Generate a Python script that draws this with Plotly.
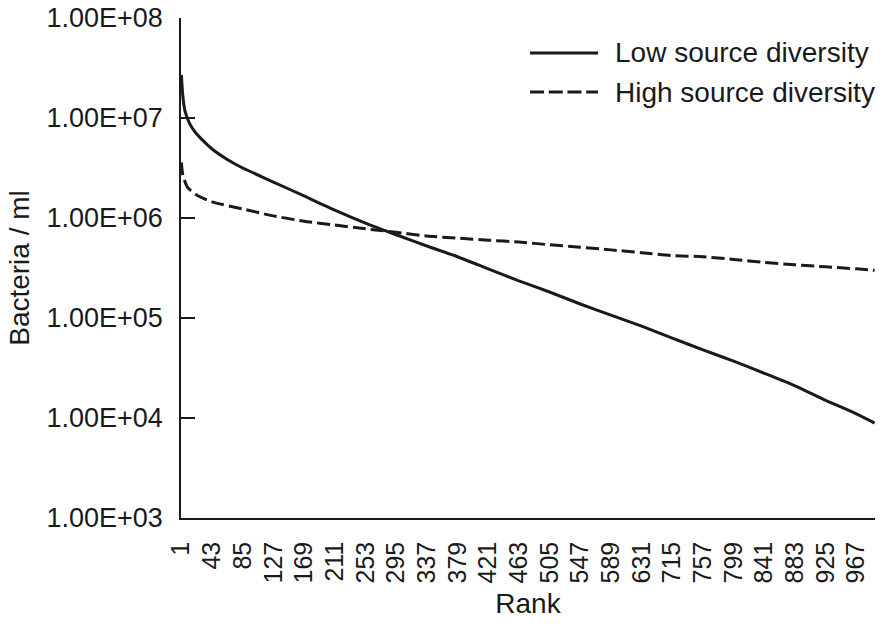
import plotly.graph_objects as go


# ranks 673..714 are absent from the category axis of the original chart
low_rank = [1, 3, 6, 12, 20, 30, 43, 65, 85, 127, 169, 211, 253, 295, 337, 379, 421,
            463, 505, 547, 589, 631, 715, 757, 799, 841, 883, 925, 967, 992]
low_div = [2.7e7, 1.66e7, 1.17e7, 8.9e6, 7.2e6, 6.0e6, 4.9e6, 3.8e6, 3.16e6, 2.29e6,
           1.66e6, 1.2e6, 8.9e5, 6.8e5, 5.25e5, 4.1e5, 3.1e5, 2.35e5, 1.82e5, 1.38e5,
           1.07e5, 8.3e4, 6.3e4, 4.8e4, 3.7e4, 2.8e4, 2.1e4, 1.5e4, 1.1e4, 8.9e3]

high_rank = [1, 2, 3, 6, 10, 22, 43, 85, 127, 169, 211, 253, 295, 337, 379, 421, 463,
             505, 547, 589, 631, 715, 757, 799, 841, 883, 925, 967, 992]
high_div = [3.6e6, 3.0e6, 2.7e6, 2.3e6, 2.0e6, 1.7e6, 1.45e6, 1.23e6, 1.05e6, 9.3e5,
            8.5e5, 7.8e5, 7.2e5, 6.6e5, 6.3e5, 6.0e5, 5.75e5, 5.4e5, 5.1e5, 4.8e5,
            4.5e5, 4.2e5, 4.1e5, 3.85e5, 3.6e5, 3.4e5, 3.25e5, 3.1e5, 3.0e5]

rank_labels = [1, 43, 85, 127, 169, 211, 253, 295, 337, 379, 421, 463, 505, 547, 589,
               631, 715, 757, 799, 841, 883, 925, 967]
y_ticks = [1e3, 1e4, 1e5, 1e6, 1e7, 1e8]
y_labels = ["1.00E+03", "1.00E+04", "1.00E+05", "1.00E+06", "1.00E+07", "1.00E+08"]

names = ["Low source diversity", "High source diversity"]

FONT = "Liberation Sans, Arial, sans-serif"
INK = "#1a1a1a"


def pos(r):
    # category position of a rank on the axis (gap after 672)
    return r - 1 if r <= 672 else r - 43


def main():
    fig = go.Figure()

    fig.add_trace(go.Scatter(
        x=[pos(r) for r in low_rank], y=low_div, mode='lines', name=names[0],
        line=dict(color=INK, width=3, shape='spline', smoothing=0.6)
    ))
    fig.add_trace(go.Scatter(
        x=[pos(r) for r in high_rank], y=high_div, mode='lines', name=names[1],
        line=dict(color=INK, width=3, dash='13px,5px', shape='spline', smoothing=0.6)
    ))

    fig.update_layout(
        width=893, height=628,
        margin=dict(l=181, r=18, t=18, b=110),
        plot_bgcolor='white', paper_bgcolor='white',
        showlegend=False,
        font=dict(family=FONT, size=27, color=INK),
        xaxis=dict(
            range=[-0.5, 949.5], showgrid=False, zeroline=False, automargin=False,
            showline=True, linecolor=INK, linewidth=1.5,
            tickvals=[pos(r) for r in rank_labels], ticktext=[str(r) for r in rank_labels],
            tickangle=-90, ticks='', ticklabelstandoff=12,
            tickfont=dict(size=25),
            title=dict(text='Rank', standoff=11, font=dict(size=28)),
        ),
        yaxis=dict(
            type='log', range=[3, 8], showgrid=False, zeroline=False, automargin=False,
            showline=True, linecolor=INK, linewidth=1.5,
            tickvals=y_ticks, ticktext=y_labels, ticklabeloverflow='allow',
            ticks='inside', ticklen=14, tickwidth=1.5, tickcolor=INK,
            ticklabelstandoff=11, tickfont=dict(size=27),
            title=dict(text='Bacteria / ml', standoff=9, font=dict(size=28)),
        ),
    )

    # legend drawn like the original: long line samples, text to the right
    for i, (yy, dash) in enumerate([(0.93, 'solid'), (0.852, '14px,4.7px')]):
        fig.add_shape(type='line', xref='paper', yref='paper',
                      x0=0.503, x1=0.601, y0=yy, y1=yy,
                      line=dict(color=INK, width=3, dash=dash))
        fig.add_annotation(xref='paper', yref='paper', x=0.622, y=yy,
                           text=names[i], showarrow=False,
                           xanchor='left', yanchor='middle',
                           font=dict(family=FONT, size=28, color=INK))

    # drop the default 8px page margin so the figure fills the window
    fig.write_html("out.html", config={'displayModeBar': False},
                   post_script="document.body.style.margin = '0';")


if __name__ == '__main__':
    main()
